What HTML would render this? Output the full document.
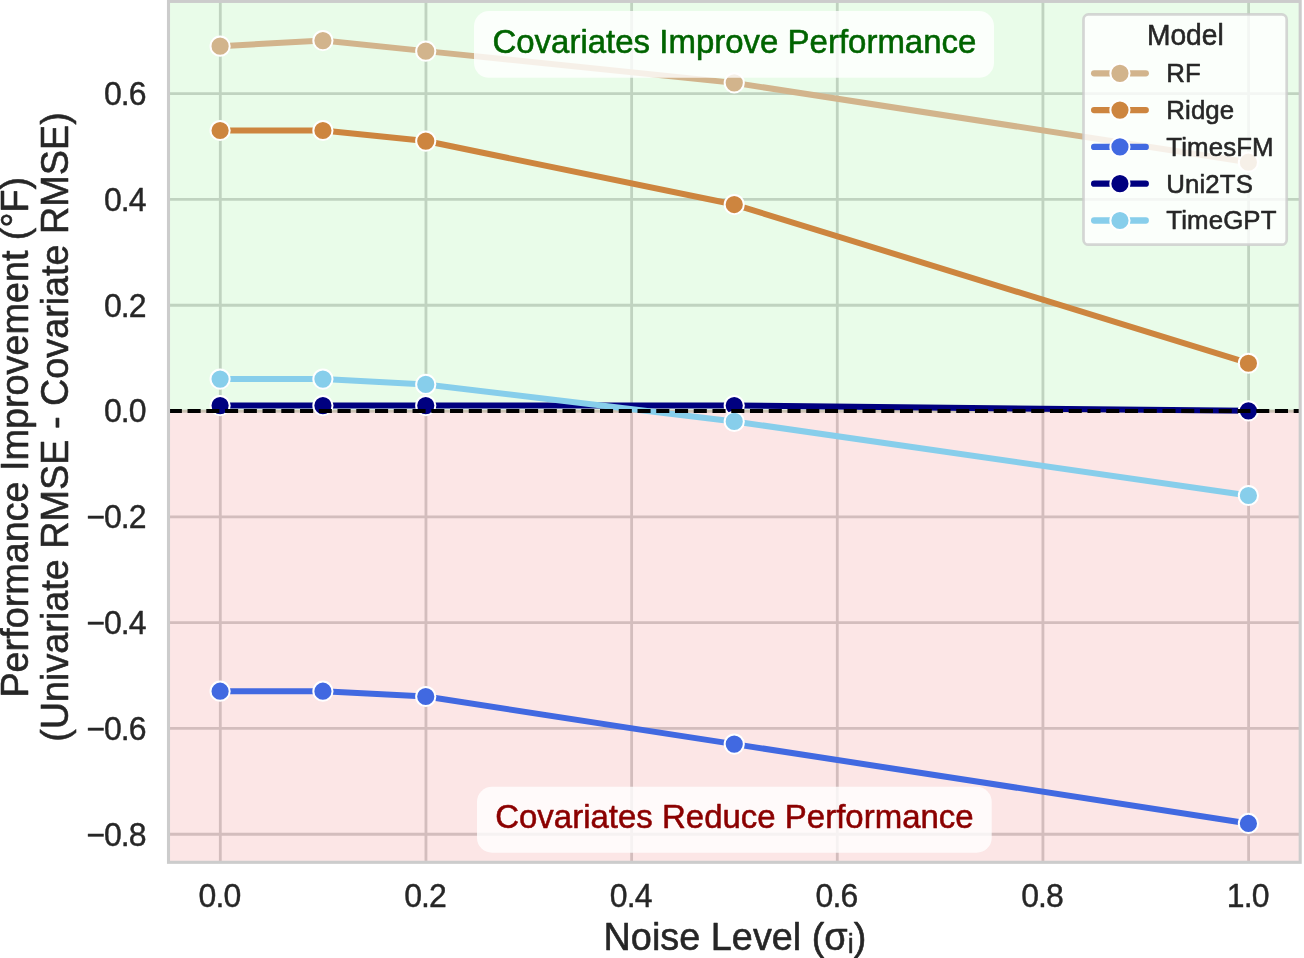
<!DOCTYPE html>
<html lang="en"><head><meta charset="utf-8"><title>Performance Improvement vs Noise Level</title>
<style>html,body{margin:0;padding:0;background:#fff;}svg{display:block;}text{font-family:"Liberation Sans", "DejaVu Sans", sans-serif;paint-order:stroke fill;stroke-linejoin:round;}</style>
</head><body>
<svg width="1304" height="958" viewBox="0 0 1304 958">
<rect x="0" y="0" width="1304" height="958" fill="#ffffff"/>
<g stroke="#cccccc" stroke-width="2.8" fill="none">
<line x1="220.30" y1="1.40" x2="220.30" y2="862.30"/>
<line x1="425.96" y1="1.40" x2="425.96" y2="862.30"/>
<line x1="631.62" y1="1.40" x2="631.62" y2="862.30"/>
<line x1="837.28" y1="1.40" x2="837.28" y2="862.30"/>
<line x1="1042.94" y1="1.40" x2="1042.94" y2="862.30"/>
<line x1="1248.60" y1="1.40" x2="1248.60" y2="862.30"/>
<line x1="168.50" y1="834.25" x2="1300.20" y2="834.25"/>
<line x1="168.50" y1="728.45" x2="1300.20" y2="728.45"/>
<line x1="168.50" y1="622.65" x2="1300.20" y2="622.65"/>
<line x1="168.50" y1="516.85" x2="1300.20" y2="516.85"/>
<line x1="168.50" y1="411.05" x2="1300.20" y2="411.05"/>
<line x1="168.50" y1="305.25" x2="1300.20" y2="305.25"/>
<line x1="168.50" y1="199.45" x2="1300.20" y2="199.45"/>
<line x1="168.50" y1="93.65" x2="1300.20" y2="93.65"/>
</g>
<rect x="168.50" y="1.40" width="1131.70" height="409.45" fill="#90ee90" fill-opacity="0.2"/>
<rect x="168.50" y="410.85" width="1131.70" height="451.45" fill="#f08080" fill-opacity="0.2"/>
<line x1="168.50" y1="411.05" x2="1300.20" y2="411.05" stroke="#cac2b3" stroke-width="2.8"/>
<g>
<polyline points="220.30,46.16 323.13,40.55 425.96,51.13 734.45,82.87 1248.60,162.22" fill="none" stroke="#d2b48c" stroke-width="6.0" stroke-linecap="round" stroke-linejoin="round"/>
<circle cx="220.10" cy="46.16" r="9.6" fill="#d2b48c" stroke="#ffffff" stroke-width="2.0"/>
<circle cx="322.93" cy="40.55" r="9.6" fill="#d2b48c" stroke="#ffffff" stroke-width="2.0"/>
<circle cx="425.76" cy="51.13" r="9.6" fill="#d2b48c" stroke="#ffffff" stroke-width="2.0"/>
<circle cx="734.25" cy="82.87" r="9.6" fill="#d2b48c" stroke="#ffffff" stroke-width="2.0"/>
<circle cx="1248.40" cy="162.22" r="9.6" fill="#d2b48c" stroke="#ffffff" stroke-width="2.0"/>
</g>
<g>
<polyline points="220.30,130.48 323.13,130.48 425.96,141.06 734.45,204.54 1248.60,363.24" fill="none" stroke="#cd853f" stroke-width="6.0" stroke-linecap="round" stroke-linejoin="round"/>
<circle cx="220.10" cy="130.48" r="9.6" fill="#cd853f" stroke="#ffffff" stroke-width="2.0"/>
<circle cx="322.93" cy="130.48" r="9.6" fill="#cd853f" stroke="#ffffff" stroke-width="2.0"/>
<circle cx="425.76" cy="141.06" r="9.6" fill="#cd853f" stroke="#ffffff" stroke-width="2.0"/>
<circle cx="734.25" cy="204.54" r="9.6" fill="#cd853f" stroke="#ffffff" stroke-width="2.0"/>
<circle cx="1248.40" cy="363.24" r="9.6" fill="#cd853f" stroke="#ffffff" stroke-width="2.0"/>
</g>
<g>
<polyline points="220.30,691.22 323.13,691.22 425.96,696.51 734.45,744.12 1248.60,823.47" fill="none" stroke="#4169e1" stroke-width="6.0" stroke-linecap="round" stroke-linejoin="round"/>
<circle cx="220.10" cy="691.22" r="9.6" fill="#4169e1" stroke="#ffffff" stroke-width="2.0"/>
<circle cx="322.93" cy="691.22" r="9.6" fill="#4169e1" stroke="#ffffff" stroke-width="2.0"/>
<circle cx="425.76" cy="696.51" r="9.6" fill="#4169e1" stroke="#ffffff" stroke-width="2.0"/>
<circle cx="734.25" cy="744.12" r="9.6" fill="#4169e1" stroke="#ffffff" stroke-width="2.0"/>
<circle cx="1248.40" cy="823.47" r="9.6" fill="#4169e1" stroke="#ffffff" stroke-width="2.0"/>
</g>
<g>
<polyline points="220.30,405.56 323.13,405.56 425.96,405.56 734.45,405.56 1248.60,410.85" fill="none" stroke="#000080" stroke-width="6.0" stroke-linecap="round" stroke-linejoin="round"/>
<circle cx="220.10" cy="405.56" r="9.6" fill="#000080" stroke="#ffffff" stroke-width="2.0"/>
<circle cx="322.93" cy="405.56" r="9.6" fill="#000080" stroke="#ffffff" stroke-width="2.0"/>
<circle cx="425.76" cy="405.56" r="9.6" fill="#000080" stroke="#ffffff" stroke-width="2.0"/>
<circle cx="734.25" cy="405.56" r="9.6" fill="#000080" stroke="#ffffff" stroke-width="2.0"/>
<circle cx="1248.40" cy="410.85" r="9.6" fill="#000080" stroke="#ffffff" stroke-width="2.0"/>
</g>
<g>
<polyline points="220.30,379.11 323.13,379.11 425.96,384.40 734.45,421.43 1248.60,495.49" fill="none" stroke="#87ceeb" stroke-width="6.0" stroke-linecap="round" stroke-linejoin="round"/>
<circle cx="220.10" cy="379.11" r="9.6" fill="#87ceeb" stroke="#ffffff" stroke-width="2.0"/>
<circle cx="322.93" cy="379.11" r="9.6" fill="#87ceeb" stroke="#ffffff" stroke-width="2.0"/>
<circle cx="425.76" cy="384.40" r="9.6" fill="#87ceeb" stroke="#ffffff" stroke-width="2.0"/>
<circle cx="734.25" cy="421.43" r="9.6" fill="#87ceeb" stroke="#ffffff" stroke-width="2.0"/>
<circle cx="1248.40" cy="495.49" r="9.6" fill="#87ceeb" stroke="#ffffff" stroke-width="2.0"/>
</g>
<line x1="168.80" y1="411.05" x2="1300.20" y2="411.05" stroke="#000000" stroke-width="3.9" stroke-dasharray="13.09 5.658"/>
<rect x="168.50" y="1.40" width="1131.70" height="860.90" fill="none" stroke="#cccccc" stroke-width="3.1"/>
<rect x="474" y="11" width="520" height="66.8" rx="15" ry="15" fill="#ffffff" fill-opacity="0.8"/>
<text transform="translate(734.40 53.30) scale(1 1.015)" font-size="33.00" text-anchor="middle" fill="#006400" stroke="#006400" stroke-width="0.55">Covariates Improve Performance</text>
<rect x="477" y="786.75" width="514.7" height="65.9" rx="15" ry="15" fill="#ffffff" fill-opacity="0.8"/>
<text transform="translate(734.40 828.00) scale(1 1.015)" font-size="33.00" text-anchor="middle" fill="#8b0000" stroke="#8b0000" stroke-width="0.55">Covariates Reduce Performance</text>
<rect x="1083.5" y="14.4" width="203.2" height="230.25" rx="5" ry="5" fill="#ffffff" fill-opacity="0.8" stroke="#cccccc" stroke-opacity="0.8" stroke-width="2.7"/>
<text transform="translate(1185.30 45.20) scale(1 1.015)" font-size="28.20" text-anchor="middle" fill="#262626" stroke="#262626" stroke-width="0.55">Model</text>
<line x1="1094.15" y1="73.30" x2="1145.75" y2="73.30" stroke="#d2b48c" stroke-width="6.3" stroke-linecap="round"/>
<circle cx="1119.95" cy="73.30" r="9.6" fill="#d2b48c" stroke="#ffffff" stroke-width="2.0"/>
<text transform="translate(1166.30 82.20) scale(1 1.015)" font-size="25.85" text-anchor="start" fill="#262626" stroke="#262626" stroke-width="0.55" letter-spacing="0.10">RF</text>
<line x1="1094.15" y1="110.10" x2="1145.75" y2="110.10" stroke="#cd853f" stroke-width="6.3" stroke-linecap="round"/>
<circle cx="1119.95" cy="110.10" r="9.6" fill="#cd853f" stroke="#ffffff" stroke-width="2.0"/>
<text transform="translate(1166.30 119.00) scale(1 1.015)" font-size="25.85" text-anchor="start" fill="#262626" stroke="#262626" stroke-width="0.55" letter-spacing="0.10">Ridge</text>
<line x1="1094.15" y1="146.90" x2="1145.75" y2="146.90" stroke="#4169e1" stroke-width="6.3" stroke-linecap="round"/>
<circle cx="1119.95" cy="146.90" r="9.6" fill="#4169e1" stroke="#ffffff" stroke-width="2.0"/>
<text transform="translate(1166.30 155.80) scale(1 1.015)" font-size="25.85" text-anchor="start" fill="#262626" stroke="#262626" stroke-width="0.55" letter-spacing="0.10">TimesFM</text>
<line x1="1094.15" y1="183.70" x2="1145.75" y2="183.70" stroke="#000080" stroke-width="6.3" stroke-linecap="round"/>
<circle cx="1119.95" cy="183.70" r="9.6" fill="#000080" stroke="#ffffff" stroke-width="2.0"/>
<text transform="translate(1166.30 192.60) scale(1 1.015)" font-size="25.85" text-anchor="start" fill="#262626" stroke="#262626" stroke-width="0.55" letter-spacing="0.10">Uni2TS</text>
<line x1="1094.15" y1="220.50" x2="1145.75" y2="220.50" stroke="#87ceeb" stroke-width="6.3" stroke-linecap="round"/>
<circle cx="1119.95" cy="220.50" r="9.6" fill="#87ceeb" stroke="#ffffff" stroke-width="2.0"/>
<text transform="translate(1166.30 229.40) scale(1 1.015)" font-size="25.85" text-anchor="start" fill="#262626" stroke="#262626" stroke-width="0.55" letter-spacing="0.10">TimeGPT</text>
<text transform="translate(219.40 907.40) scale(1 1.020)" font-size="32.00" text-anchor="middle" fill="#262626" stroke="#262626" stroke-width="0.40" letter-spacing="-0.90">0.0</text>
<text transform="translate(425.06 907.40) scale(1 1.020)" font-size="32.00" text-anchor="middle" fill="#262626" stroke="#262626" stroke-width="0.40" letter-spacing="-0.90">0.2</text>
<text transform="translate(630.72 907.40) scale(1 1.020)" font-size="32.00" text-anchor="middle" fill="#262626" stroke="#262626" stroke-width="0.40" letter-spacing="-0.90">0.4</text>
<text transform="translate(836.38 907.40) scale(1 1.020)" font-size="32.00" text-anchor="middle" fill="#262626" stroke="#262626" stroke-width="0.40" letter-spacing="-0.90">0.6</text>
<text transform="translate(1042.04 907.40) scale(1 1.020)" font-size="32.00" text-anchor="middle" fill="#262626" stroke="#262626" stroke-width="0.40" letter-spacing="-0.90">0.8</text>
<text transform="translate(1247.70 907.40) scale(1 1.020)" font-size="32.00" text-anchor="middle" fill="#262626" stroke="#262626" stroke-width="0.40" letter-spacing="-0.90">1.0</text>
<text transform="translate(145.70 845.55) scale(1 1.020)" font-size="32.00" text-anchor="end" fill="#262626" stroke="#262626" stroke-width="0.40" letter-spacing="-0.90">−0.8</text>
<text transform="translate(145.70 739.75) scale(1 1.020)" font-size="32.00" text-anchor="end" fill="#262626" stroke="#262626" stroke-width="0.40" letter-spacing="-0.90">−0.6</text>
<text transform="translate(145.70 633.95) scale(1 1.020)" font-size="32.00" text-anchor="end" fill="#262626" stroke="#262626" stroke-width="0.40" letter-spacing="-0.90">−0.4</text>
<text transform="translate(145.70 528.15) scale(1 1.020)" font-size="32.00" text-anchor="end" fill="#262626" stroke="#262626" stroke-width="0.40" letter-spacing="-0.90">−0.2</text>
<text transform="translate(145.70 422.35) scale(1 1.020)" font-size="32.00" text-anchor="end" fill="#262626" stroke="#262626" stroke-width="0.40" letter-spacing="-0.90">0.0</text>
<text transform="translate(145.70 316.55) scale(1 1.020)" font-size="32.00" text-anchor="end" fill="#262626" stroke="#262626" stroke-width="0.40" letter-spacing="-0.90">0.2</text>
<text transform="translate(145.70 210.75) scale(1 1.020)" font-size="32.00" text-anchor="end" fill="#262626" stroke="#262626" stroke-width="0.40" letter-spacing="-0.90">0.4</text>
<text transform="translate(145.70 104.95) scale(1 1.020)" font-size="32.00" text-anchor="end" fill="#262626" stroke="#262626" stroke-width="0.40" letter-spacing="-0.90">0.6</text>
<text transform="translate(734.90 950.10) scale(1 1.015)" font-size="37.85" text-anchor="middle" fill="#262626" stroke="#262626" stroke-width="0.55">Noise Level (σᵢ)</text>
<text transform="translate(27.85 437.20) rotate(-90) scale(1 1.012)" font-size="37.77" text-anchor="middle" fill="#262626" stroke="#262626" stroke-width="0.55">Performance Improvement (°F)</text>
<text transform="translate(68.15 427.00) rotate(-90) scale(1 1.015)" font-size="37.77" text-anchor="middle" fill="#262626" stroke="#262626" stroke-width="0.55">(Univariate RMSE - Covariate RMSE)</text>
</svg></body></html>
